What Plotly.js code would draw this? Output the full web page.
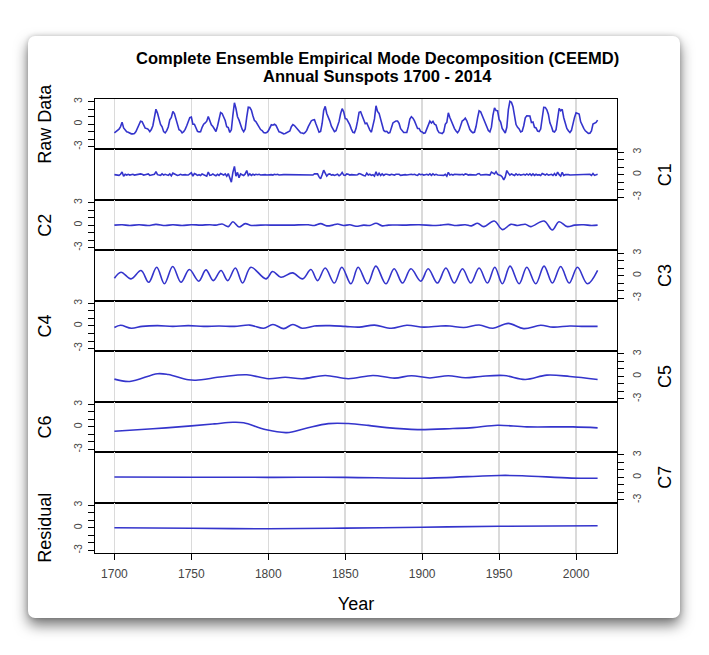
<!DOCTYPE html>
<html>
<head>
<meta charset="utf-8">
<script src="https://cdn.plot.ly/plotly-3.0.1.min.js"></script>
<style>
  html, body { margin:0; padding:0; background:#ffffff; width:709px; height:655px; overflow:hidden; }
  #card { position:absolute; left:28px; top:36px; width:652px; height:582px; background:#fff;
          border-radius:7px; box-shadow: 0 7px 14px rgba(0,0,0,0.55), 0 0 5px rgba(0,0,0,0.18); }
  #plot { position:absolute; left:0; top:0; width:709px; height:655px; }
</style>
</head>
<body>
<div id="card"></div>
<div id="plot"></div>
<script>
// ---- Annual sunspot numbers 1700-2014 (standardised for the "Raw Data" panel) ----
const sunspots = [
  8.3, 18.3, 26.7, 38.3, 60.0, 96.7, 48.3, 33.3, 16.7, 13.3,
  5.0, 0.0, 0.0, 3.3, 18.3, 45.0, 78.3, 105.0, 100.0, 65.0,
  46.7, 43.3, 36.7, 18.3, 35.0, 66.7, 130.0, 203.3, 171.7, 121.7,
  78.3, 58.3, 18.3, 8.3, 26.7, 56.7, 116.7, 135.0, 185.0, 168.3,
  121.7, 66.7, 33.3, 26.7, 8.3, 18.3, 36.7, 66.7, 100.0, 134.8,
  139.0, 79.5, 79.7, 51.2, 20.3, 16.0, 17.0, 54.0, 79.3, 90.0,
  104.8, 143.2, 102.0, 75.2, 60.7, 34.8, 19.0, 63.0, 116.3, 176.8,
  168.0, 136.0, 110.8, 58.0, 51.0, 11.7, 33.0, 154.2, 257.3, 209.8,
  141.3, 113.5, 64.2, 38.0, 17.0, 40.2, 138.2, 220.0, 218.2, 196.8,
  149.8, 111.0, 100.0, 78.2, 68.3, 35.5, 26.7, 10.7, 6.8, 11.3,
  24.2, 56.7, 75.0, 71.8, 79.2, 70.3, 46.8, 16.8, 13.5, 4.2,
  0.0, 2.3, 8.3, 20.3, 23.2, 59.0, 76.3, 68.3, 52.9, 38.5,
  24.2, 9.2, 6.3, 2.2, 11.4, 28.2, 59.9, 83.0, 108.5, 115.2,
  117.4, 80.8, 44.3, 13.4, 19.5, 85.8, 192.7, 227.3, 168.7, 143.0,
  105.5, 63.3, 40.3, 18.1, 25.1, 65.8, 102.7, 166.3, 208.3, 182.5,
  126.3, 122.0, 102.7, 74.1, 39.0, 12.7, 8.2, 43.4, 104.4, 178.3,
  182.2, 146.6, 112.1, 83.5, 89.2, 57.8, 30.7, 13.9, 62.8, 123.6,
  232.0, 185.3, 169.2, 110.1, 74.5, 28.3, 18.9, 20.7, 5.7, 10.0,
  53.7, 90.5, 99.0, 106.1, 105.8, 86.3, 42.4, 21.8, 11.2, 10.4,
  11.8, 59.5, 121.7, 142.0, 130.0, 106.6, 69.4, 43.8, 44.4, 20.2,
  15.7, 4.6, 8.5, 40.8, 70.1, 105.5, 90.1, 102.8, 80.9, 73.2,
  30.9, 9.5, 6.0, 2.4, 16.1, 79.0, 95.0, 173.6, 134.6, 105.7,
  62.7, 43.5, 23.7, 9.7, 27.9, 74.0, 106.5, 114.7, 129.7, 108.2,
  59.4, 35.1, 18.6, 9.2, 14.6, 60.2, 132.8, 190.6, 182.6, 148.0,
  113.0, 79.2, 50.8, 27.1, 16.1, 55.3, 154.3, 214.7, 193.0, 190.7,
  118.9, 98.3, 45.0, 20.1, 6.6, 54.2, 200.7, 269.3, 261.7, 225.1,
  159.0, 76.4, 53.4, 39.9, 15.0, 22.0, 66.8, 132.9, 150.0, 149.4,
  148.0, 94.4, 97.6, 54.1, 49.2, 22.5, 18.4, 39.3, 131.0, 220.1,
  218.9, 198.9, 162.4, 91.0, 60.5, 20.6, 14.8, 33.9, 123.0, 211.1,
  191.8, 203.3, 133.0, 76.1, 44.9, 25.1, 11.6, 28.9, 88.3, 136.3,
  173.9, 170.4, 163.6, 99.3, 65.3, 45.8, 24.7, 12.6, 4.2, 4.8,
  24.9, 80.8, 84.5, 94.0, 113.3
];

// ---- C1 (highest-frequency mode), one value per year 1700-2014 ----
const c1 = [
  0.0, -0.05, 0.0, -0.1, 0.05, 0.35, -0.2, 0.05, -0.05, 0.05,
  -0.05, 0.0, 0.05, -0.05, 0.0, -0.05, 0.05, 0.1, 0.05, -0.05,
  0.0, 0.05, 0.1, -0.1, -0.05, -0.1, 0.05, 0.4, 0.0, -0.05,
  -0.1, 0.1, -0.05, 0.05, -0.05, -0.1, 0.1, -0.15, 0.2, 0.1,
  0.05, -0.1, -0.05, 0.05, -0.05, 0.0, 0.0, -0.05, -0.05, 0.1,
  0.25, -0.2, 0.15, 0.05, -0.1, 0.0, -0.1, 0.1, 0.0, -0.1,
  -0.2, 0.35, -0.1, -0.05, 0.1, -0.05, -0.15, 0.05, -0.1, 0.15,
  0.05, -0.05, 0.1, -0.2, 0.15, -0.5, -1.0, 0.3, 1.1, -0.2,
  0.3, -0.4, 0.1, 0.0, -0.1, 0.1, 0.55, -0.1, 0.1, -0.1,
  0.05, -0.05, 0.05, 0.0, 0.05, -0.05, 0.0, 0.0, 0.0, -0.05,
  0.0, 0.05, 0.0, -0.05, 0.05, 0.0, 0.05, -0.05, 0.0, 0.0,
  0.0, 0.0, 0.0, 0.0, -0.05, 0.05, 0.05, -0.05, 0.05, 0.0,
  0.0, 0.0, 0.0, 0.0, 0.0, -0.05, 0.0, 0.0, 0.05, -0.05,
  0.1, 0.05, 0.1, -0.3, -0.55, 0.0, 0.6, 0.2, -0.2, 0.05,
  0.1, -0.05, 0.0, -0.1, -0.05, 0.05, -0.15, 0.0, 0.3, -0.05,
  -0.1, 0.1, 0.05, -0.05, 0.0, -0.05, -0.1, -0.05, 0.0, 0.15,
  0.1, -0.05, -0.1, -0.15, 0.2, -0.05, 0.05, -0.1, 0.0, -0.2,
  0.4, -0.15, 0.2, -0.1, 0.1, -0.1, 0.05, 0.05, -0.05, -0.05,
  0.05, 0.0, -0.05, 0.05, 0.05, 0.05, -0.1, -0.05, 0.0, 0.0,
  -0.05, 0.0, 0.05, 0.05, 0.0, 0.05, -0.05, -0.1, 0.1, 0.0,
  0.05, -0.05, 0.0, 0.05, -0.05, 0.1, -0.1, 0.1, -0.05, 0.05,
  -0.05, -0.05, 0.0, 0.0, -0.1, 0.05, -0.2, 0.3, -0.05, 0.05,
  -0.05, 0.05, 0.0, -0.05, 0.0, 0.0, 0.05, -0.05, 0.1, 0.05,
  -0.05, 0.0, 0.0, 0.05, -0.05, -0.05, 0.1, 0.15, -0.05, 0.0,
  0.05, 0.0, 0.0, 0.0, -0.05, 0.35, 0.2, 0.1, 0.4, 0.05,
  -0.05, -0.1, -0.3, -0.7, -0.3, 0.55, 0.2, -0.05, 0.1, 0.0,
  -0.1, 0.1, -0.05, 0.05, -0.05, 0.0, 0.05, -0.05, 0.1, -0.05,
  0.1, -0.1, 0.1, -0.1, 0.05, -0.05, 0.0, -0.1, 0.15, 0.05,
  -0.05, 0.1, -0.05, 0.0, 0.05, -0.1, 0.15, -0.15, 0.35, 0.0,
  -0.2, 0.3, -0.1, 0.0, 0.05, 0.0, -0.05, -0.05, 0.0, 0.05,
  0.05, -0.05, 0.05, -0.05, 0.05, 0.0, 0.0, -0.05, 0.0, 0.05,
  -0.1, 0.15, -0.1, 0.0, 0.05
];

// ---- C2 (read at turning points) ----
const c2Years = [1700,1705,1710,1716,1722,1727,1733,1738,1744,1750,1756,1762,1766,1770,1774,1777,1781,1785,1789,1795,1805,1815,1826,1830,1834,1838,1842,1845,1849,1853,1857,1862,1866,1870,1874,1878,1888,1898,1907,1912,1917,1922,1928,1932,1936,1940,1946.8,1952.2,1957.6,1962,1967,1970.5,1979.2,1984.6,1988.9,1994.3,1999,2005,2010,2014];
const c2      = [0.0,0.05,-0.05,0.05,-0.05,0.1,-0.05,0.05,-0.05,0.05,0.0,0.05,0.0,0.15,-0.2,0.45,-0.25,0.2,-0.05,0.0,0.0,0.0,0.05,-0.05,0.2,-0.1,0.0,0.15,-0.05,0.05,-0.15,0.0,-0.05,0.25,-0.1,0.0,0.0,0.05,-0.05,0.0,0.1,-0.05,0.05,-0.1,0.25,-0.2,0.55,-0.6,0.1,-0.05,0.12,-0.2,0.55,-0.65,0.45,-0.2,0.0,0.05,-0.05,0.0];

// ---- C3 (~11-year cycle, read at turning points) ----
const c3Years = [1700,1704.3,1710.8,1717.3,1722.3,1727.5,1732.5,1737.9,1743.3,1748.7,1754.8,1759.5,1764.3,1769.3,1773.6,1778.6,1783.3,1788.7,1798.5,1802.8,1808.2,1815.8,1822.3,1827.7,1832,1837,1842.9,1847.8,1853.7,1858.4,1864.5,1869.9,1876.4,1881.8,1887.2,1892.7,1899.1,1903.9,1909.9,1915.4,1920.8,1926.2,1931.6,1937,1942.4,1947.2,1952.1,1957.1,1963,1968,1973.8,1979.2,1984.6,1990,1995.5,2000.9,2007.4,2014];
const c3      = [-0.36,0.44,-0.44,0.67,-0.9,1.1,-1.1,1.2,-0.9,0.8,-0.75,0.75,-0.67,0.67,-0.67,1.0,-1.0,1.1,-0.44,0.53,-0.22,0.36,-0.44,0.8,-0.67,1.0,-1.0,1.1,-1.1,1.1,-1.1,1.25,-1.1,0.9,-1.0,0.9,-0.75,0.9,-1.0,1.0,-1.0,0.9,-1.0,1.0,-1.0,1.1,-1.1,1.25,-1.1,1.1,-1.1,1.25,-1.0,1.2,-1.0,1.1,-1.1,0.7];

// ---- C4 ----
const c4Years = [1700,1704,1711,1718,1728,1738,1748,1758,1768,1778,1788,1797,1803,1810,1816,1822,1830,1840,1850,1859,1869,1880,1890,1901,1912,1918,1927,1937,1946,1956,1966,1977,1985,1996,2005,2014];
const c4      = [-0.2,0.1,-0.3,-0.05,0.05,-0.05,0.05,-0.05,0.0,-0.05,0.12,-0.3,0.2,-0.35,0.2,-0.3,0.0,0.05,-0.05,-0.15,0.12,-0.3,0.1,-0.15,0.0,0.0,-0.2,0.13,-0.3,0.35,-0.35,0.1,-0.15,0.0,-0.05,-0.05];

// ---- C5 ----
const c5Years = [1700,1710,1728,1735,1748,1753,1770,1786,1800,1811,1822,1837,1852,1868,1882,1893,1905,1917,1928,1938,1953,1967,1981,1996,2014];
const c5      = [-0.36,-0.67,0.36,0.25,-0.44,-0.5,-0.05,0.22,-0.3,-0.1,-0.3,0.13,-0.3,0.13,-0.22,0.1,-0.2,0.1,-0.18,0.0,0.13,-0.4,0.18,0.0,-0.4];

// ---- C6 ----
const c6Years = [1700,1725,1750,1765,1777,1784,1798,1812,1824,1839,1852,1865,1877,1897,1920,1933,1949,1968,1998,2014];
const c6      = [-0.58,-0.25,0.13,0.4,0.62,0.55,-0.36,-0.76,-0.22,0.44,0.45,0.2,-0.1,-0.36,-0.22,-0.1,0.22,0.0,0.0,-0.13];

// ---- C7 ----
const c7Years = [1700,1750,1800,1850,1900,1950,1965,1997,2014];
const c7      = [0.05,0.02,0.0,0.0,-0.12,0.25,0.22,-0.1,-0.13];

// ---- Residual ----
const resYears = [1700,1750,1800,1850,1900,1950,2014];
const resid    = [0.0,-0.07,-0.13,-0.05,0.08,0.2,0.27];

const panelNames = ['Raw Data','C1','C2','C3','C4','C5','C6','C7','Residual'];
const yTickVals  = [-3,-2,-1,0,1,2,3];
const yTickText  = ['-3','','','0','','','3'];
const xTickVals  = [1700,1750,1800,1850,1900,1950,2000];
const titleLines = ['Complete Ensemble Empirical Mode Decomposition (CEEMD)', 'Annual Sunspots 1700 - 2014'];

// years axis for the annual series
const years = [];
for (let y = 1700; y <= 2014; y++) years.push(y);

// standardise raw data (as R's scale())
const n = sunspots.length;
const mean = sunspots.reduce((a,b)=>a+b,0)/n;
const sd = Math.sqrt(sunspots.reduce((a,b)=>a+(b-mean)*(b-mean),0)/(n-1));
const rawZ = sunspots.map(v => (v-mean)/sd);

const series = [
  {x: years, y: rawZ, shape:'linear'},
  {x: years, y: c1, shape:'linear'},
  {x: c2Years, y: c2, shape:'spline'},
  {x: c3Years, y: c3, shape:'spline'},
  {x: c4Years, y: c4, shape:'spline'},
  {x: c5Years, y: c5, shape:'spline'},
  {x: c6Years, y: c6, shape:'spline'},
  {x: c7Years, y: c7, shape:'spline'},
  {x: resYears, y: resid, shape:'spline'}
];

const lineColor = '#3434cc';
const FONT = 'Liberation Sans, Arial, Helvetica, sans-serif';
const traces = [];
const layout = {
  width: 709, height: 655,
  margin: {l: 95, r: 92, t: 99, b: 102},
  paper_bgcolor: 'rgba(0,0,0,0)',
  plot_bgcolor: '#ffffff',
  showlegend: false,
  font: {family: FONT, color: '#000'},
  annotations: [
    {text: '<b>' + titleLines[0] + '</b>', xref: 'paper', yref: 'paper', x: 0.542, y: 1.090,
     xanchor: 'center', yanchor: 'middle', showarrow: false, font: {family: FONT, size: 16.5, color: '#000'}},
    {text: '<b>' + titleLines[1] + '</b>', xref: 'paper', yref: 'paper', x: 0.542, y: 1.0507,
     xanchor: 'center', yanchor: 'middle', showarrow: false, font: {family: FONT, size: 16.5, color: '#000'}}
  ]
};

const N = panelNames.length;
for (let i = 0; i < N; i++) {
  const sfx = i === 0 ? '' : String(i+1);
  const s = series[i];
  traces.push({
    type: 'scatter', mode: 'lines',
    x: s.x, y: s.y,
    xaxis: 'x' + sfx, yaxis: 'y' + sfx,
    line: {color: lineColor, width: 1.6, shape: s.shape, smoothing: 1},
    hoverinfo: 'skip'
  });
  const left = (i % 2 === 0);
  const last = (i === N-1);
  layout['yaxis' + sfx] = {
    domain: [1 - (i+1)/N, 1 - i/N],
    anchor: 'x' + sfx,
    side: left ? 'left' : 'right',
    range: [-3.36, 3.36],
    tickvals: yTickVals, ticktext: yTickText,
    ticks: 'outside', ticklen: 6, tickwidth: 1, tickcolor: '#000',
    ticklabelstandoff: left ? 2 : 4,
    tickangle: -90,
    tickfont: {family: FONT, size: 10.5, color: '#444'},
    showgrid: false, zeroline: false,
    showline: true, mirror: true, linecolor: '#000', linewidth: 1,
    title: {text: panelNames[i], font: {family: FONT, size: 18, color: '#000'}, standoff: left ? 15 : 16},
    fixedrange: true
  };
  const xa = {
    domain: [0, 1],
    anchor: 'y' + sfx,
    range: [1687.4, 2026.6],
    tickvals: xTickVals,
    showticklabels: last,
    ticks: last ? 'outside' : '',
    ticklen: 6, tickwidth: 1, tickcolor: '#000',
    ticklabelstandoff: 4,
    tickfont: {family: FONT, size: 12, color: '#444'},
    showgrid: true, gridcolor: '#dadada', gridwidth: 1.5,
    zeroline: false,
    showline: true, mirror: true, linecolor: '#000', linewidth: 1,
    fixedrange: true
  };
  if (i > 0) xa.matches = 'x';
  if (last) xa.title = {text: 'Year', font: {family: FONT, size: 18, color: '#000'}, standoff: 16};
  layout['xaxis' + sfx] = xa;
}

Plotly.newPlot('plot', traces, layout, {displayModeBar: false, staticPlot: true});
</script>
</body>
</html>
